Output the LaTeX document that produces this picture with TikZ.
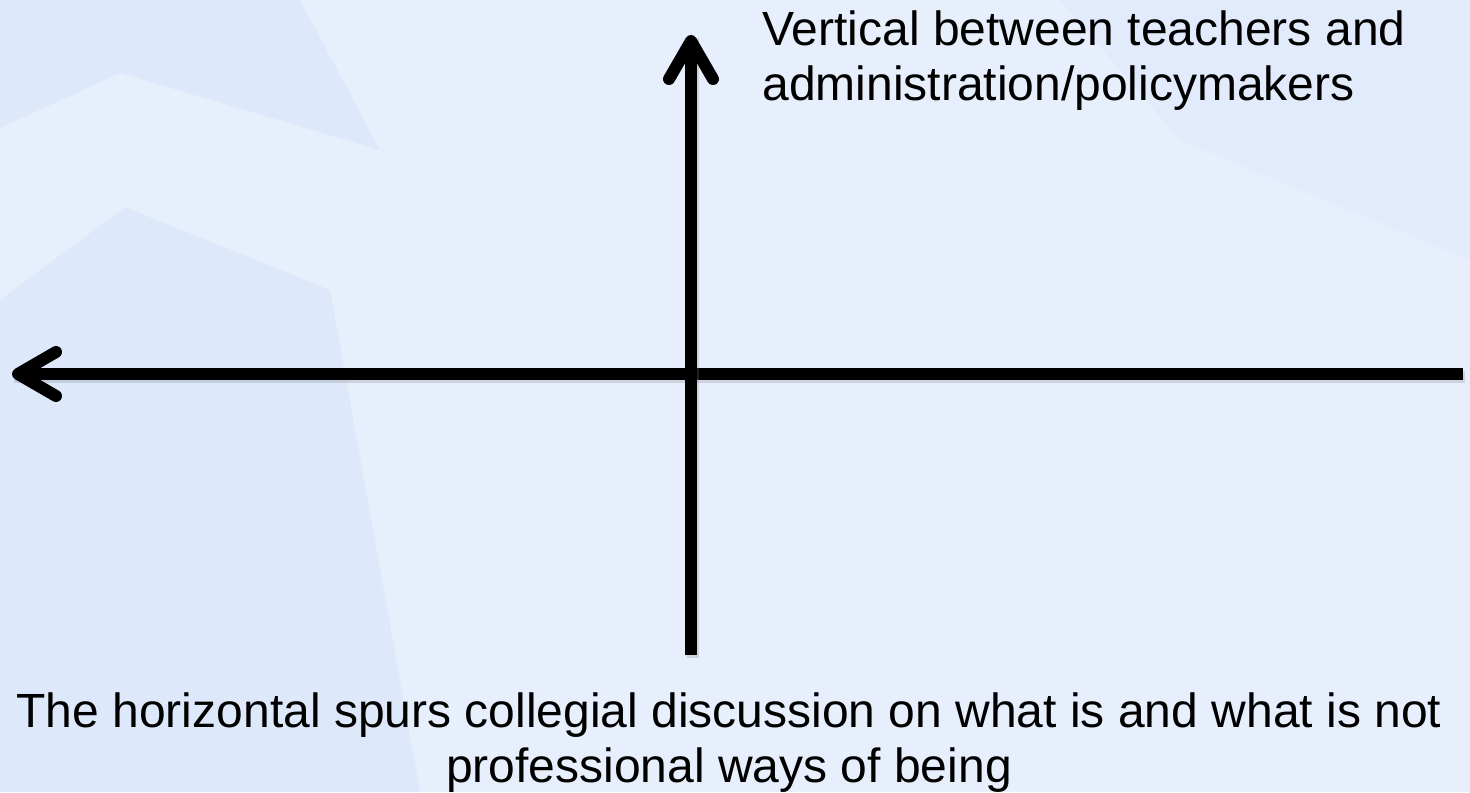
\documentclass[tikz,border=0pt]{standalone}
\usepackage{fontspec}
\setmainfont{Liberation Sans}
\definecolor{bgblue}{RGB}{231,239,252}
\definecolor{shadeblue}{RGB}{221,233,251}
\usetikzlibrary{positioning, arrows.meta}

\begin{document}
\begin{tikzpicture}[x=0.5pt, y=-0.5pt,
  axis/.style={line width=6pt, black, -{Straight Barb[length=19pt, width=22pt, round]},
    preaction={draw=black!50, opacity=0.25, line width=6pt, -,
      transform canvas={shift={(1pt,-1.5pt)}}}},
  lbl/.style={font=\fontsize{24}{27.5}\selectfont, inner sep=0pt},
]
% background
\fill[bgblue] (0,0) rectangle (1470,792);
\fill[shadeblue] (0,0) -- (300,0) -- (380,150) -- (120,73) -- (0,128) -- cycle;
\fill[shadeblue] (0,300) -- (125,207) -- (330,290) -- (420,792) -- (0,792) -- cycle;
\fill[shadeblue, opacity=0.6] (1060,0) -- (1470,0) -- (1470,260) -- (1180,140) -- cycle;
\useasboundingbox (0,0) rectangle (1470,792);
% axes
\coordinate (xr) at (1463,374);
\coordinate (xl) at (12,374);
\coordinate (yb) at (691,655);
\coordinate (yt) at (691,35);
\draw[axis] (xr) -- (xl);
\draw[axis] (yb) -- (yt);
% labels
\node[lbl, anchor=north west, align=left] (vlab) at (762,10)
  {Vertical between teachers and\\administration/policymakers};
\node[lbl, anchor=north, align=center] (hlab) at (729,692)
  {The horizontal spurs collegial discussion on what is and what is not\\professional ways of being};
\end{tikzpicture}
\end{document}
